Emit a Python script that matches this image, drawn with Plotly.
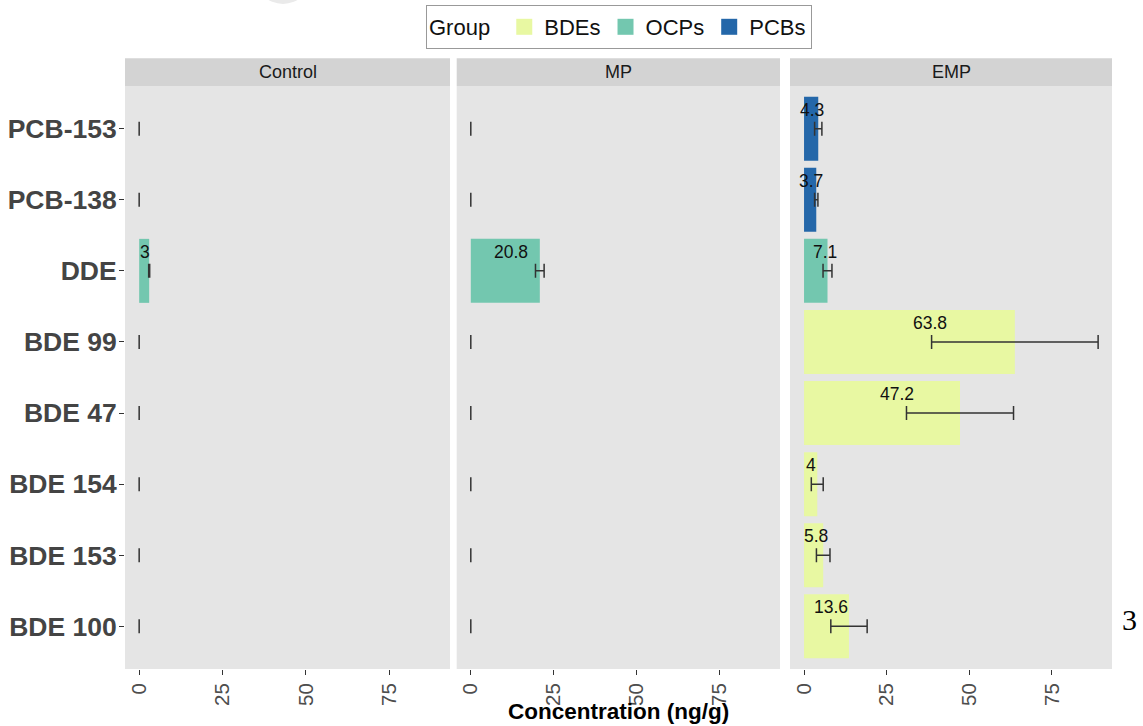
import plotly.graph_objects as go

# ---------------- data ----------------
categories = ["PCB-153", "PCB-138", "DDE", "BDE 99", "BDE 47", "BDE 154", "BDE 153", "BDE 100"]
groups = ["PCBs", "PCBs", "OCPs", "BDEs", "BDEs", "BDEs", "BDEs", "BDEs"]
treatments = ["Control", "MP", "EMP"]

control_mean = [0, 0, 3.0, 0, 0, 0, 0, 0]
control_sd = [0, 0, 0.15, 0, 0, 0, 0, 0]
mp_mean = [0, 0, 20.8, 0, 0, 0, 0, 0]
mp_sd = [0, 0, 1.3, 0, 0, 0, 0, 0]
emp_mean = [4.3, 3.7, 7.1, 63.8, 47.2, 4.0, 5.8, 13.6]
emp_sd = [1.1, 0.5, 1.35, 25.2, 16.2, 1.8, 2.05, 5.5]

# x positions of the value labels
control_label_x = [None, None, 1.6, None, None, None, None, None]
mp_label_x = [None, None, 12.2, None, None, None, None, None]
emp_label_x = [2.5, 2.2, 6.3, 38.2, 28.2, 2.2, 3.5, 8.3]

x_ticks = [0, 25, 50, 75]
group_names = ["BDEs", "OCPs", "PCBs"]
group_colors = {"BDEs": "#E8F8A2", "OCPs": "#73C7AF", "PCBs": "#2467A9"}

means = [control_mean, mp_mean, emp_mean]
sds = [control_sd, mp_sd, emp_sd]
label_xs = [control_label_x, mp_label_x, emp_label_x]

# ---------------- figure ----------------
W, H = 1143, 726
FONT = "Liberation Sans, Arial, sans-serif"

def px_x(p):
    return p / W

def px_y(p):
    return 1 - p / H

x_domains = [[px_x(125), px_x(450)], [px_x(456.7), px_x(780)], [px_x(790), px_x(1112)]]
y_domain = [px_y(669), px_y(86)]

fig = go.Figure()
annotations = []
shapes = []

for i, t in enumerate(treatments):
    xa = "x" if i == 0 else f"x{i+1}"
    ya = "y" if i == 0 else f"y{i+1}"
    fig.add_trace(go.Bar(
        x=means[i], y=categories, orientation="h",
        marker=dict(color=[group_colors[g] for g in groups], line=dict(width=0)),
        width=0.9,
        error_x=dict(type="data", array=sds[i], symmetric=True,
                     color="#333333", thickness=1.5, width=7),
        xaxis=xa, yaxis=ya, showlegend=False, hoverinfo="x+y",
    ))
    for c, v, lx in zip(categories, means[i], label_xs[i]):
        if v and lx is not None:
            annotations.append(dict(
                x=lx, y=c, xref=xa, yref=ya, text=f"{round(v, 1):g}",
                showarrow=False, yshift=19, xanchor="center", yanchor="middle",
                font=dict(family=FONT, size=17.5, color="#111111"),
            ))
    # strip
    shapes.append(dict(type="rect", xref="paper", yref="paper",
                       x0=x_domains[i][0], x1=x_domains[i][1],
                       y0=px_y(86), y1=px_y(58.3),
                       fillcolor="#D3D3D3", line=dict(width=0), layer="below"))
    annotations.append(dict(x=sum(x_domains[i]) / 2, y=(px_y(86) + px_y(58.3)) / 2,
                            xref="paper", yref="paper", text=t, showarrow=False,
                            xanchor="center", yanchor="middle",
                            font=dict(family=FONT, size=18, color="#1A1A1A")))

# legend entries
for g in group_names:
    fig.add_trace(go.Scatter(
        x=[None], y=[None], mode="markers", name=g,
        marker=dict(symbol="square", size=16, color=group_colors[g]),
        xaxis="x3", yaxis="y3", showlegend=True,
    ))

# axis title
annotations.append(dict(x=px_x(618.5), y=px_y(711), xref="paper", yref="paper",
                        text="<b>Concentration (ng/g)</b>", showarrow=False,
                        xanchor="center", yanchor="middle",
                        font=dict(family=FONT, size=22.5, color="#000000")))
# stray page number
annotations.append(dict(x=px_x(1129), y=px_y(619), xref="paper", yref="paper",
                        text="3", showarrow=False, xanchor="center", yanchor="middle",
                        font=dict(family="Liberation Serif, Times New Roman, serif",
                                  size=30, color="#000000")))
# faint circle at the top edge
shapes.append(dict(type="circle", xref="paper", yref="paper",
                   x0=px_x(283 - 28), x1=px_x(283 + 28),
                   y0=px_y(4), y1=px_y(-52),
                   fillcolor="#EAEAEA", line=dict(width=0), layer="below"))

layout = dict(
    width=W, height=H,
    margin=dict(l=0, r=0, t=0, b=0),
    paper_bgcolor="white", plot_bgcolor="#E5E5E5",
    bargap=0.1,
    annotations=annotations, shapes=shapes,
    font=dict(family=FONT),
    legend=dict(
        orientation="h", x=px_x(619), y=px_y(5), xanchor="center", yanchor="top",
        bordercolor="#999999", borderwidth=1, bgcolor="white",
        title=dict(text="Group ", side="left", font=dict(family=FONT, size=22, color="#111111")),
        font=dict(family=FONT, size=22, color="#111111"),
        itemsizing="trace", traceorder="normal",
    ),
)

for i in range(3):
    suffix = "" if i == 0 else str(i + 1)
    layout[f"xaxis{suffix}"] = dict(
        domain=x_domains[i], range=[-4.25, 93.2], tickvals=x_ticks,
        ticktext=[str(v) for v in x_ticks], tickangle=-90,
        ticks="outside", ticklen=5, tickcolor="#333333", showgrid=False,
        zeroline=False, showline=False,
        tickfont=dict(family=FONT, size=20.5, color="#4D4D4D"),
        anchor="y" if i == 0 else f"y{i+1}", fixedrange=True,
    )
    layout[f"yaxis{suffix}"] = dict(
        domain=y_domain, categoryorder="array", categoryarray=categories[::-1],
        range=[-0.6, 7.6], showgrid=False, zeroline=False, showline=False,
        ticks="outside" if i == 0 else "", ticklen=5, tickcolor="#333333",
        showticklabels=(i == 0),
        tickfont=dict(family=FONT, size=26.5, color="#444444", weight="bold"),
        anchor="x" if i == 0 else f"x{i+1}", fixedrange=True,
    )
    if i == 0:
        layout["yaxis"]["ticklabelstandoff"] = -3
    else:
        layout[f"yaxis{suffix}"]["matches"] = "y"

fig.update_layout(**layout)

fig.write_html("out.html", post_script="document.body.style.margin='0';",
               config={"displayModeBar": False})
